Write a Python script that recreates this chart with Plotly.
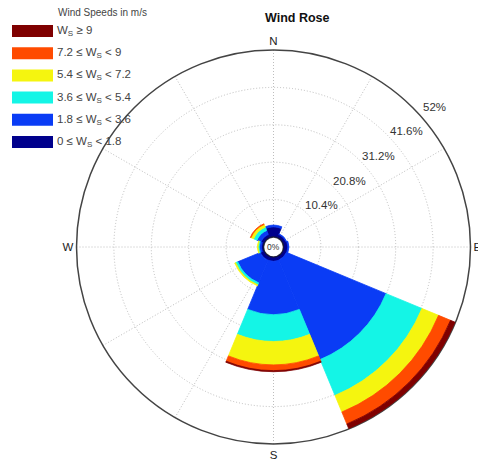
import math
import plotly.graph_objects as go

# Direction sectors (compass bearings, degrees) and their names
directions = ["N", "NE", "E", "SE", "S", "SW", "W", "NW"]
bearings = [0, 45, 90, 135, 180, 225, 270, 315]

# Frequency (%) per direction for each wind-speed class, innermost first
ws_0_18 = [2.8, 1.0, 1.2, 1.1, 1.2, 1.2, 0.6, 1.0]
ws_18_36 = [0.5, 0.2, 0.3, 30.0, 14.8, 6.8, 0.6, 1.2]
ws_36_54 = [0.0, 0.0, 0.0, 10.8, 7.5, 0.6, 0.3, 1.0]
ws_54_72 = [0.0, 0.0, 0.0, 5.0, 6.5, 0.3, 0.2, 0.8]
ws_72_9 = [0.0, 0.0, 0.0, 3.6, 1.6, 0.0, 0.0, 0.2]
ws_9_up = [0.0, 0.0, 0.0, 1.4, 0.3, 0.0, 0.0, 0.0]

class_labels = [
    "0 \u2264 W<sub>S</sub> &lt; 1.8",
    "1.8 \u2264 W<sub>S</sub> &lt; 3.6",
    "3.6 \u2264 W<sub>S</sub> &lt; 5.4",
    "5.4 \u2264 W<sub>S</sub> &lt; 7.2",
    "7.2 \u2264 W<sub>S</sub> &lt; 9",
    "W<sub>S</sub> \u2265 9",
]
class_colors = ["#00008C", "#0A3CF5", "#14F5E6", "#F5F50F", "#FF4B00", "#7F0000"]

ring_values = [10.4, 20.8, 31.2, 41.6, 52]
ring_labels = ["10.4%", "20.8%", "31.2%", "41.6%", "52%"]

W, H = 478, 465
cx, cy, R = 273.5, 247.0, 197.0  # rose centre / radius in pixels
hole_px = 10.0
r_max = 52.0
dom_x = [(cx - R) / W, (cx + R) / W]
dom_y = [(H - cy - R) / H, (H - cy + R) / H]
FONT = "Liberation Sans, Arial"

fig = go.Figure()

series = [ws_0_18, ws_18_36, ws_36_54, ws_54_72, ws_72_9, ws_9_up]
for vals, name, col in zip(series, class_labels, class_colors):
    fig.add_trace(go.Barpolar(
        r=vals, theta=bearings, width=[45] * len(bearings),
        name=name, marker=dict(color=col, line=dict(width=0.8, color=col)),
        showlegend=False,
    ))

# 0% circle around the centre hole
circle_theta = list(range(0, 361, 5))
fig.add_trace(go.Scatterpolar(
    r=[0] * len(circle_theta), theta=circle_theta, mode="lines",
    line=dict(color="#1a1a2a", width=1.2), showlegend=False, hoverinfo="skip",
))

tick_vals = list(range(0, 360, 30))
tick_text = [{0: "N", 90: "E", 180: "S", 270: "W"}.get(t, "") for t in tick_vals]

fig.update_layout(
    width=W, height=H,
    margin=dict(l=0, r=0, t=0, b=0),
    paper_bgcolor="white",
    showlegend=False,
    polar=dict(
        domain=dict(x=dom_x, y=dom_y),
        bgcolor="white",
        hole=hole_px / R,
        barmode="stack",
        bargap=0,
        radialaxis=dict(
            range=[0, r_max], tickvals=ring_values, showticklabels=False,
            ticks="", showline=False, gridcolor="#bdbdbd", griddash="1px,2px",
            gridwidth=1, layer="below traces",
        ),
        angularaxis=dict(
            rotation=90, direction="clockwise",
            tickmode="array", tickvals=tick_vals, ticktext=tick_text,
            ticks="", showline=True, linecolor="#444444", linewidth=1.5,
            gridcolor="#bdbdbd", griddash="1px,2px", gridwidth=1,
            layer="below traces",
            tickfont=dict(family=FONT, size=11.5, color="#222222"),
        ),
    ),
)

# ring value labels along the north-east diagonal, just outside each ring
label_bearing = math.radians(49)
for v, txt in zip(ring_values, ring_labels):
    d = hole_px + (v + 4.6) * (R - hole_px) / r_max
    fig.add_annotation(
        x=(cx + d * math.sin(label_bearing)) / W,
        y=(H - cy + d * math.cos(label_bearing)) / H,
        xref="paper", yref="paper", xanchor="center", yanchor="middle",
        showarrow=False, text=txt,
        font=dict(family=FONT, size=11.5, color="#333333"),
    )

# title and centre label
fig.add_annotation(
    x=297 / W, y=1 - 18 / H, xref="paper", yref="paper",
    xanchor="center", yanchor="middle", showarrow=False,
    text="<b>Wind Rose</b>",
    font=dict(family=FONT, size=12.5, color="#111111"),
)
fig.add_annotation(
    x=(dom_x[0] + dom_x[1]) / 2, y=(dom_y[0] + dom_y[1]) / 2,
    xref="paper", yref="paper", xanchor="center", yanchor="middle",
    showarrow=False, text="0%",
    font=dict(family=FONT, size=8.5, color="#333333"),
)

# legend: colour boxes and labels, strongest wind class on top
fig.add_annotation(
    x=56 / W, y=1 - 13 / H, xref="paper", yref="paper", showarrow=False,
    xanchor="left", yanchor="middle", text="Wind Speeds in m/s",
    font=dict(family=FONT, size=10, color="#444444"),
)
row_top, row_step, box_h = 31.0, 22.2, 12.0
for i, (name, col) in enumerate(zip(class_labels[::-1], class_colors[::-1])):
    yc = row_top + i * row_step
    fig.add_shape(
        type="rect", xref="paper", yref="paper",
        x0=12 / W, x1=53 / W, y0=1 - (yc + box_h / 2) / H, y1=1 - (yc - box_h / 2) / H,
        fillcolor=col, line=dict(width=0),
    )
    fig.add_annotation(
        x=55 / W, y=1 - yc / H, xref="paper", yref="paper", showarrow=False,
        xanchor="left", yanchor="middle", text=name,
        font=dict(family=FONT, size=11.5, color="#444444"),
    )

fig.write_html("out.html")
